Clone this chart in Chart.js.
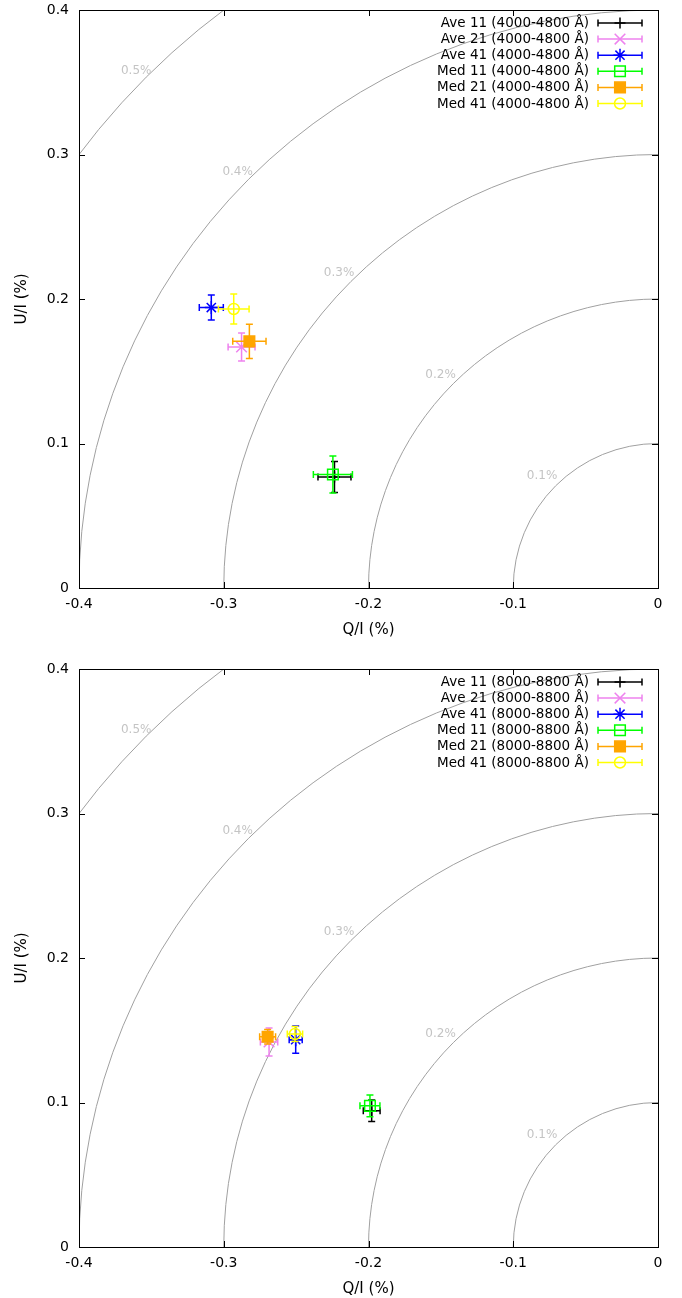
<!DOCTYPE html>
<html>
<head>
<meta charset="utf-8">
<script src="https://cdn.jsdelivr.net/npm/chart.js@4.4.0/dist/chart.umd.min.js"></script>
<style>
  html, body { margin: 0; padding: 0; background: #fff; }
  body { width: 682px; height: 1298px; overflow: hidden; position: relative; }
  .panel { position: absolute; left: 0; width: 682px; height: 649px; }
</style>
</head>
<body>
<div class="panel" style="top:0"><canvas id="blueChart" width="682" height="649"></canvas></div>
<div class="panel" style="top:659px"><canvas id="redChart" width="682" height="649"></canvas></div>
<script>
// series, in drawing order
const seriesNames = ['Ave 11', 'Ave 21', 'Ave 41', 'Med 11', 'Med 21', 'Med 41'];

// 4000-4800 A panel
const blueRange = '4000-4800 Å';
const blueQ = [-0.2235, -0.2877, -0.3086, -0.2246, -0.2823, -0.2931];
const blueU = [0.0768, 0.1668, 0.1941, 0.0785, 0.1707, 0.1931];
const blueQErr = [0.0114, 0.0093, 0.0083, 0.0135, 0.0115, 0.0106];
const blueUErr = [0.0107, 0.0097, 0.0087, 0.0128, 0.0118, 0.0104];

// 8000-8800 A panel
const redRange = '8000-8800 Å';
const redQ = [-0.1978, -0.2687, -0.2503, -0.1990, -0.2697, -0.2508];
const redU = [0.0943, 0.1419, 0.1435, 0.0977, 0.1455, 0.1474];
const redQErr = [0.0058, 0.0060, 0.0045, 0.0069, 0.0055, 0.0053];
const redUErr = [0.0075, 0.0097, 0.0095, 0.0075, 0.0050, 0.0052];

// constant polarisation circles
const ringRadii = [0.1, 0.2, 0.3, 0.4, 0.5];
const ringLabels = ['0.1%', '0.2%', '0.3%', '0.4%', '0.5%'];

const seriesColors = ['#000000', '#ee82ee', '#0000ff', '#00ff00', '#ffa500', '#ffff00'];
const pointStyles = ['cross', 'crossRot', 'star', 'rect', 'rect', 'circle'];
const pointSizes = [5.5, 7.5, 6.5, 7.5, 7.5, 5.5];
const filled = [false, false, false, false, true, false];

Chart.defaults.font.family = '"DejaVu Sans", sans-serif';
Chart.defaults.color = '#000';
Chart.defaults.animation = false;

const rings = {
    id: 'rings',
    beforeDatasetsDraw(chart) {
        const ctx = chart.ctx;
        const xs = chart.scales.x, ys = chart.scales.y;
        const area = chart.chartArea;
        const cx = xs.getPixelForValue(0);
        const cy = ys.getPixelForValue(0);
        ctx.save();
        ctx.beginPath();
        ctx.rect(area.left, area.top, area.right - area.left, area.bottom - area.top);
        ctx.clip();
        ctx.strokeStyle = '#a0a0a0';
        ctx.lineWidth = 1;
        ringRadii.forEach((r) => {
            const rx = cx - xs.getPixelForValue(-r);
            const ry = cy - ys.getPixelForValue(r);
            ctx.beginPath();
            ctx.ellipse(cx, cy, rx, ry, 0, Math.PI, 1.5 * Math.PI);
            ctx.stroke();
        });
        // labels sit just outside each circle, a bit off the 45 degree line
        ctx.fillStyle = '#c4c4c4';
        ctx.font = '12px "DejaVu Sans"';
        ctx.textAlign = 'center';
        ctx.textBaseline = 'middle';
        ringRadii.forEach((r, i) => {
            const dx = 0.701 * r + 0.010;
            const dy = 0.701 * r + 0.0085;
            ctx.fillText(ringLabels[i], xs.getPixelForValue(-dx), ys.getPixelForValue(dy) + 1.5);
        });
        ctx.restore();
    }
};

function strokeErrorBar(ctx, x0, x1, y, cap) {
    ctx.moveTo(x0, y);
    ctx.lineTo(x1, y);
    ctx.moveTo(x0, y - cap);
    ctx.lineTo(x0, y + cap);
    ctx.moveTo(x1, y - cap);
    ctx.lineTo(x1, y + cap);
}

const errorBars = {
    id: 'errorBars',
    beforeDatasetDraw(chart, args) {
        const ds = chart.data.datasets[args.index];
        const xs = chart.scales.x, ys = chart.scales.y;
        const ctx = chart.ctx;
        const pt = ds.data[0];
        const px = xs.getPixelForValue(pt.x);
        const py = ys.getPixelForValue(pt.y);
        const cap = 3.5;
        ctx.save();
        ctx.strokeStyle = ds.borderColor;
        ctx.lineWidth = 1.5;
        ctx.beginPath();
        strokeErrorBar(ctx, xs.getPixelForValue(pt.x - ds.qErr), xs.getPixelForValue(pt.x + ds.qErr), py, cap);
        const y0 = ys.getPixelForValue(pt.y - ds.uErr);
        const y1 = ys.getPixelForValue(pt.y + ds.uErr);
        ctx.moveTo(px, y0);
        ctx.lineTo(px, y1);
        ctx.moveTo(px - cap, y0);
        ctx.lineTo(px + cap, y0);
        ctx.moveTo(px - cap, y1);
        ctx.lineTo(px + cap, y1);
        ctx.stroke();
        ctx.restore();
    }
};

const frame = {
    id: 'frame',
    afterDraw(chart) {
        const ctx = chart.ctx;
        const area = chart.chartArea;
        const xs = chart.scales.x, ys = chart.scales.y;
        const tick = 6;
        ctx.save();
        ctx.strokeStyle = '#000';
        ctx.lineWidth = 1;
        ctx.beginPath();
        xs.ticks.forEach((t) => {
            const x = Math.round(xs.getPixelForValue(t.value)) + 0.5;
            ctx.moveTo(x, area.bottom);
            ctx.lineTo(x, area.bottom - tick);
            ctx.moveTo(x, area.top);
            ctx.lineTo(x, area.top + tick);
        });
        ys.ticks.forEach((t) => {
            const y = Math.round(ys.getPixelForValue(t.value)) + 0.5;
            ctx.moveTo(area.left, y);
            ctx.lineTo(area.left + tick, y);
            ctx.moveTo(area.right, y);
            ctx.lineTo(area.right - tick, y);
        });
        ctx.stroke();
        ctx.strokeRect(Math.round(area.left) + 0.5, Math.round(area.top) + 0.5,
            Math.round(area.right - area.left), Math.round(area.bottom - area.top));

        // key, top right inside the plot
        ctx.font = '13.5px "DejaVu Sans"';
        ctx.textAlign = 'right';
        ctx.textBaseline = 'middle';
        chart.data.datasets.forEach((ds, i) => {
            const y = area.top + 13 + i * 16.1;
            const xa = area.right - 60, xb = area.right - 16;
            ctx.fillStyle = '#000';
            ctx.fillText(ds.label + ' (' + chart.options.plugins.frame.range + ')', area.right - 69, y + 0.5);
            ctx.strokeStyle = ds.borderColor;
            ctx.lineWidth = 1.5;
            ctx.beginPath();
            strokeErrorBar(ctx, xa, xb, y, 3.5);
            ctx.stroke();
            ctx.fillStyle = ds.backgroundColor;
            Chart.helpers.drawPoint(ctx, {
                pointStyle: ds.pointStyle, radius: ds.pointRadius, rotation: 0, borderWidth: 1.5
            }, (xa + xb) / 2, y);
        });
        ctx.restore();
    }
};

function makePanel(canvasId, range, q, u, qErr, uErr) {
    const datasets = seriesNames.map((name, i) => ({
        label: name,
        data: [{ x: q[i], y: u[i] }],
        qErr: qErr[i],
        uErr: uErr[i],
        pointStyle: pointStyles[i],
        pointRadius: pointSizes[i],
        pointHoverRadius: pointSizes[i],
        borderColor: seriesColors[i],
        backgroundColor: filled[i] ? seriesColors[i] : 'rgba(0,0,0,0)',
        borderWidth: 1.5,
        order: seriesNames.length - i
    }));

    const fmt = (v) => String(+Number(v).toFixed(1));

    return new Chart(document.getElementById(canvasId), {
        type: 'scatter',
        data: { datasets: datasets },
        plugins: [rings, errorBars, frame],
        options: {
            responsive: false,
            layout: { padding: { left: 0, right: 24, top: 10, bottom: 0 } },
            plugins: {
                legend: { display: false },
                tooltip: { enabled: false },
                frame: { range: range }
            },
            scales: {
                x: {
                    type: 'linear',
                    min: -0.4,
                    max: 0,
                    grid: { display: false, drawTicks: false },
                    border: { display: false },
                    ticks: { stepSize: 0.1, padding: 8, font: { size: 14 }, color: '#000', callback: fmt },
                    title: { display: true, text: 'Q/I (%)', font: { size: 15 }, color: '#000', padding: { top: 0, bottom: 10 } },
                    afterFit: (scale) => { scale.height = 61; scale.paddingLeft = 0; scale.paddingRight = 0; }
                },
                y: {
                    type: 'linear',
                    min: 0,
                    max: 0.4,
                    grid: { display: false, drawTicks: false },
                    border: { display: false },
                    ticks: { stepSize: 0.1, padding: 10, font: { size: 14 }, color: '#000', callback: fmt },
                    title: { display: true, text: 'U/I (%)', font: { size: 15 }, color: '#000', padding: { top: 13, bottom: 0 } },
                    afterFit: (scale) => { scale.width = 79; scale.paddingTop = 0; scale.paddingBottom = 0; }
                }
            }
        }
    });
}

makePanel('blueChart', blueRange, blueQ, blueU, blueQErr, blueUErr);
makePanel('redChart', redRange, redQ, redU, redQErr, redUErr);
</script>
</body>
</html>
